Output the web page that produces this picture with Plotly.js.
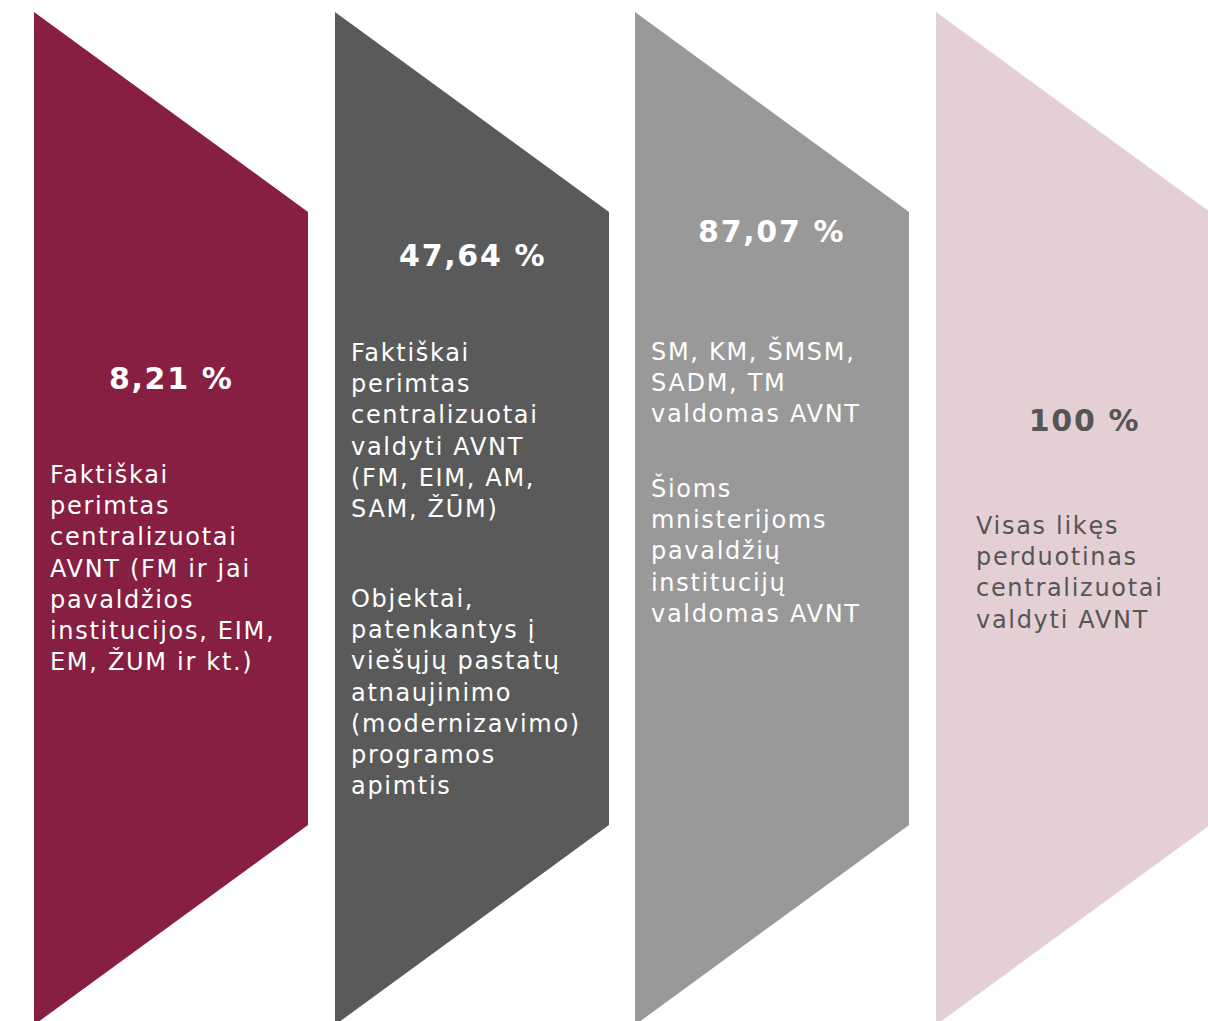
<!DOCTYPE html>
<html>
<head>
<meta charset="utf-8">
<script src="https://cdn.plot.ly/plotly-3.0.1.min.js"></script>
<style>
html,body{margin:0;padding:0;background:#fff;}
#chart{width:1208px;height:1021px;}
#chart text.annotation-text{letter-spacing:1.7px;}
</style>
</head>
<body>
<div id="chart"></div>
<script>
// ---- data ----
const stageShares = ["8,21 %", "47,64 %", "87,07 %", "100 %"];
const stageParagraphs = [
  ["Faktiškai<br>perimtas<br>centralizuotai<br>AVNT (FM ir jai<br>pavaldžios<br>institucijos, EIM,<br>EM, ŽUM ir kt.)"],
  ["Faktiškai<br>perimtas<br>centralizuotai<br>valdyti AVNT<br>(FM, EIM, AM,<br>SAM, ŽŪM)",
   "Objektai,<br>patenkantys į<br>viešųjų pastatų<br>atnaujinimo<br>(modernizavimo)<br>programos<br>apimtis"],
  ["SM, KM, ŠMSM,<br>SADM, TM<br>valdomas AVNT",
   "Šioms<br>mnisterijoms<br>pavaldžių<br>institucijų<br>valdomas AVNT"],
  ["Visas likęs<br>perduotinas<br>centralizuotai<br>valdyti AVNT"]
];
const stageColors = ["#861F41", "#5A5A5A", "#999999", "#E4CFD5"];
const textColors = ["#FFFFFF", "#FFFFFF", "#FFFFFF", "#555555"];

// ---- layout geometry ----
const W = 1208, H = 1021;
const x0 = [34, 335, 635, 936];
const pw = 274;
const topY = 12, shoulderTop = 212, shoulderBot = 825, botY = 1025;
const pctX = [171, 472, 771, 1084];
const pctY = [378, 255, 231, 420];
const textX = [51, 352, 652, 977];
const paraY = [[568, 0], [431, 692], [382, 550], [573]];
const FONT = "'DejaVu Sans', 'Noto Sans', sans-serif";

const traces = [];
const ann = [];
for (let i = 0; i < stageShares.length; i++) {
  const a = x0[i], b = x0[i] + pw;
  traces.push({
    type: "scatter", mode: "lines", fill: "toself",
    x: [a, b, b, a, a],
    y: [topY, shoulderTop, shoulderBot, botY, topY],
    line: {width: 0, color: stageColors[i]},
    fillcolor: stageColors[i],
    hoverinfo: "skip", showlegend: false
  });
  ann.push({
    xref: "x", yref: "y", x: pctX[i], y: pctY[i],
    text: "<b>" + stageShares[i] + "</b>", showarrow: false,
    xanchor: "center", yanchor: "middle",
    font: {family: FONT, size: 30, color: textColors[i]}
  });
  stageParagraphs[i].forEach((p, k) => {
    ann.push({
      xref: "x", yref: "y", x: textX[i] - 3, y: paraY[i][k],
      text: p, showarrow: false, align: "left",
      xanchor: "left", yanchor: "middle",
      font: {family: FONT, size: 24, color: textColors[i]}
    });
  });
}

const layout = {
  width: W, height: H,
  margin: {l: 0, r: 0, t: 0, b: 0},
  paper_bgcolor: "#FFFFFF", plot_bgcolor: "#FFFFFF",
  xaxis: {range: [0, W], visible: false, fixedrange: true},
  yaxis: {range: [H, 0], visible: false, fixedrange: true},
  annotations: ann,
  showlegend: false
};

Plotly.newPlot("chart", traces, layout, {displayModeBar: false, staticPlot: true});
</script>
</body>
</html>
